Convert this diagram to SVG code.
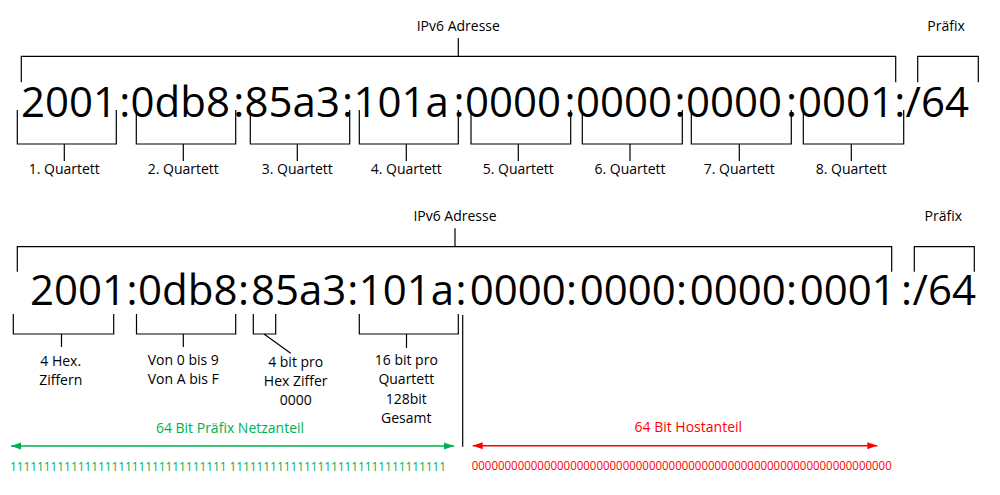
<svg xmlns="http://www.w3.org/2000/svg" width="1000" height="495" viewBox="0 0 1000 495">
<style>
text{font-family:"Open Sans","Noto Sans","Liberation Sans",sans-serif;}
.lbl{font-size:14px;fill:#000;text-anchor:middle;}
.big{font-size:42px;fill:#000;}
.ln{stroke:#000;stroke-width:1.2;fill:none;}
.g{fill:#00B050;}
.r{fill:#FF0000;}
.bits{font-size:12px;}
</style>
<defs>
<marker id="ag" markerUnits="userSpaceOnUse" markerWidth="10" markerHeight="8" refX="10" refY="4" orient="auto-start-reverse"><path d="M0,0.5 L10,4 L0,7.5 z" fill="#00B050"/></marker>
<marker id="ar" markerUnits="userSpaceOnUse" markerWidth="10" markerHeight="8" refX="10" refY="4" orient="auto-start-reverse"><path d="M0,0.5 L10,4 L0,7.5 z" fill="#FF0000"/></marker>
</defs>
<rect width="1000" height="495" fill="#fff"/>

<g id="connectors">
  <!-- row 1 -->
  <path class="ln" d="M458.3,38 V56.3 M21.3,82.3 V56.3 H895.7 V82.3 M917.7,82.3 V56.3 H978.3 V82.3"/>
  <path class="ln" d="M17.3,110 V144 H116.3 V110 M64.3,144 V161"/>
  <path class="ln" d="M136.3,110 V144 H235.7 V110 M183.3,144 V161"/>
  <path class="ln" d="M250.3,110 V144 H349.7 V110 M297.3,144 V161"/>
  <path class="ln" d="M359.3,110 V144 H458.3 V110 M406.3,144 V161"/>
  <path class="ln" d="M471,110 V144 H570.7 V110 M518.3,144 V161"/>
  <path class="ln" d="M582.3,110 V144 H682.3 V110 M630,144 V161"/>
  <path class="ln" d="M691.3,110 V144 H791.3 V110 M739.3,144 V161"/>
  <path class="ln" d="M803.3,110 V144 H903.7 V110 M851.3,144 V161"/>
  <!-- row 2 -->
  <path class="ln" d="M455,228.3 V246.7 M17.3,271.7 V246.7 H891.7 V271.7 M914.3,271.7 V246.7 H974.3 V271.7"/>
  <path class="ln" d="M13.3,314 V334 H113.7 V314 M61.5,334 V347"/>
  <path class="ln" d="M136.5,314 V334 H235.7 V314 M183.3,334 V347"/>
  <path class="ln" d="M253.3,314 V334 H275.7 V314 M264,334 L290.7,353.3"/>
  <path class="ln" d="M359.3,314 V334 H458.3 V314 M406.5,334 V348"/>
  <path class="ln" d="M462.7,315 V446.7"/>
  <line x1="11" y1="446" x2="454" y2="446" stroke="#00B050" stroke-width="1.5" marker-start="url(#ag)" marker-end="url(#ag)"/>
  <line x1="472.7" y1="445.7" x2="877.3" y2="445.7" stroke="#FF0000" stroke-width="1.5" marker-start="url(#ar)" marker-end="url(#ar)"/>
</g>

<g id="row1-label"><text class="lbl" x="458.3" y="31">IPv6 Adresse</text></g>
<g id="row1-prefix"><text class="lbl" x="946" y="31">Präfix</text></g>
<g id="row1-address">
<text class="big" y="117"><tspan x="21">2001</tspan><tspan x="119.2">:</tspan><tspan x="130.6">0db8</tspan><tspan x="233.2">:</tspan><tspan x="244.6">85a3</tspan><tspan x="342">:</tspan><tspan x="353.4">101a</tspan><tspan x="453.6">:</tspan><tspan x="465">0000</tspan><tspan x="564.4">:</tspan><tspan x="576">0000</tspan><tspan x="674.6">:</tspan><tspan x="686">0000</tspan><tspan x="786">:</tspan><tspan x="798">0001</tspan><tspan x="894.2">:</tspan><tspan x="905.5">/64</tspan></text>
</g>
<g id="q1"><text class="lbl" x="64.3" y="174">1. Quartett</text></g>
<g id="q2"><text class="lbl" x="183.3" y="174">2. Quartett</text></g>
<g id="q3"><text class="lbl" x="297.3" y="174">3. Quartett</text></g>
<g id="q4"><text class="lbl" x="406.3" y="174">4. Quartett</text></g>
<g id="q5"><text class="lbl" x="518.3" y="174">5. Quartett</text></g>
<g id="q6"><text class="lbl" x="630" y="174">6. Quartett</text></g>
<g id="q7"><text class="lbl" x="739.3" y="174">7. Quartett</text></g>
<g id="q8"><text class="lbl" x="851.3" y="174">8. Quartett</text></g>

<g id="row2-label"><text class="lbl" x="455" y="221">IPv6 Adresse</text></g>
<g id="row2-prefix"><text class="lbl" x="943.3" y="221">Präfix</text></g>
<g id="row2-address">
<text class="big" y="305"><tspan x="30">2001</tspan><tspan x="126.5">:</tspan><tspan x="138">0db8</tspan><tspan x="238">:</tspan><tspan x="251">85a3</tspan><tspan x="347.3">:</tspan><tspan x="358.7">101a</tspan><tspan x="455.4">:</tspan><tspan x="469.7">0000</tspan><tspan x="566">:</tspan><tspan x="579.7">0000</tspan><tspan x="676">:</tspan><tspan x="689.7">0000</tspan><tspan x="786">:</tspan><tspan x="799.7">0001</tspan><tspan x="901">:</tspan><tspan x="912.5">/64</tspan></text>
</g>
<g id="hex-digits"><text class="lbl" x="60.7"><tspan x="60.7" y="365.7">4 Hex.</tspan><tspan x="60.7" y="384.5">Ziffern</tspan></text></g>
<g id="range"><text class="lbl" x="183.3"><tspan x="183.3" y="364.5">Von 0 bis 9</tspan><tspan x="183.3" y="384">Von A bis F</tspan></text></g>
<g id="bits-per-digit"><text class="lbl" x="295.7"><tspan x="295.7" y="366.7">4 bit pro</tspan><tspan x="295.7" y="385.7">Hex Ziffer</tspan><tspan x="295.7" y="405">0000</tspan></text></g>
<g id="bits-per-quartet"><text class="lbl" x="406.3"><tspan x="406.3" y="365">16 bit pro</tspan><tspan x="406.3" y="384">Quartett</tspan><tspan x="406.3" y="404">128bit</tspan><tspan x="406.3" y="422.7">Gesamt</tspan></text></g>

<g id="net-part">
<text class="lbl g" x="230" y="432.7">64 Bit Präfix Netzanteil</text>
<text class="g bits" x="10" y="470.5" textLength="436" lengthAdjust="spacingAndGlyphs">11111111111111111111111111111111 11111111111111111111111111111111</text>
</g>
<g id="host-part">
<text class="lbl r" x="688.3" y="432.3">64 Bit Hostanteil</text>
<text class="r bits" x="471.7" y="470.2" textLength="420" lengthAdjust="spacingAndGlyphs">0000000000000000000000000000000000000000000000000000000000000000</text>
</g>
</svg>
